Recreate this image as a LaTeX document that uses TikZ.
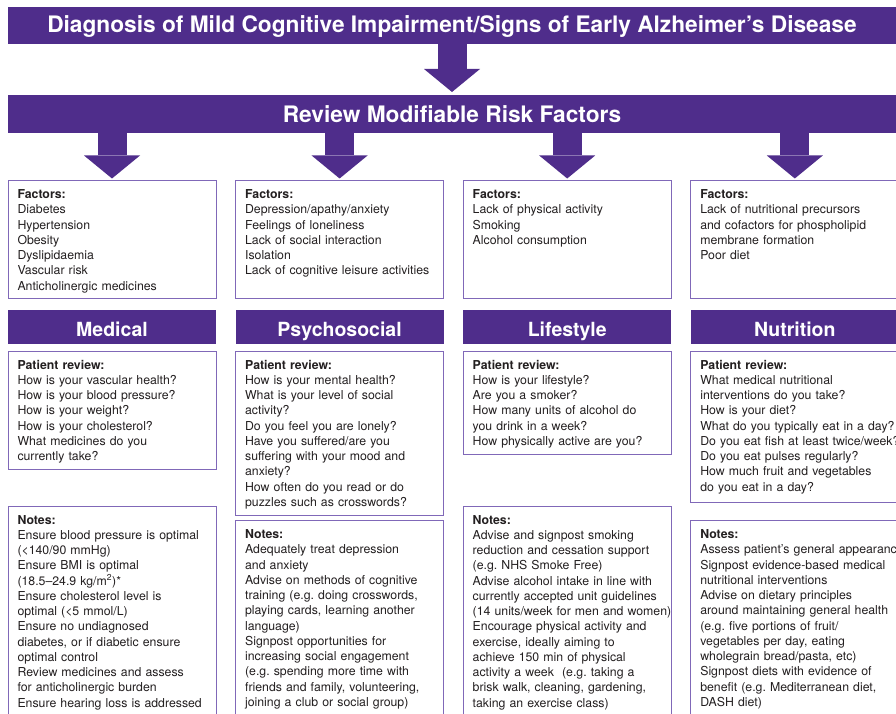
\documentclass[tikz,border=0pt]{standalone}
\usepackage{fontspec}
\setmainfont{TeX Gyre Heros}
\usepackage{xcolor}
\usepackage{tikz}
\usetikzlibrary{positioning,arrows.meta}

\definecolor{viola}{RGB}{79,45,139}
\definecolor{bordo}{RGB}{128,104,184}
\definecolor{testo}{RGB}{35,31,32}

\newcommand{\corpo}{\fontsize{12.3}{15.25}\selectfont\frenchspacing}

\tikzset{
  banner/.style={fill=viola, text=white, font=\fontsize{22.7}{26}\selectfont\bfseries, minimum width=888pt, inner sep=0pt, outer sep=0pt, text depth=0pt},
  categoria/.style={fill=viola, text=white, font=\fontsize{19.5}{23}\selectfont\bfseries, minimum width=208pt, minimum height=34pt, inner sep=0pt, outer sep=0pt, text height=19pt, text depth=0pt},
  scheda/.style={draw=bordo, line width=1pt, fill=white, text=testo, font=\corpo, text width=189pt, align=left, inner xsep=9.5pt, inner ysep=6pt, text height=12pt, text depth=#1, outer sep=0pt, execute at begin node={\rightskip=-30pt plus 1fil\relax}},
  freccia/.style={draw=viola, line width=29pt, -{Triangle[width=56pt, length=23pt, line width=0pt, fill=viola]}}
}

\begin{document}
\begin{tikzpicture}[x=1pt, y=1pt]
  \useasboundingbox (0,0) rectangle (896,-714);
  \clip (0,0) rectangle (896,-714);

  % Intestazioni
  \node[banner, minimum height=37pt, text height=14.4pt] (diagnosi) at (452,-25.5) {Diagnosis of Mild Cognitive Impairment/Signs of Early Alzheimer’s Disease};
  \node[banner, minimum height=38pt, text height=16.6pt] (rischi) at (452,-114) {Review Modifiable Risk Factors};

  % Fattori
  \node[scheda=93.5pt, anchor=north west] (fatt1) at (8,-180.5) {\textbf{Factors:}\\Diabetes\\Hypertension\\Obesity\\Dyslipidaemia\\Vascular risk\\Anticholinergic medicines};
  \node[scheda=93.5pt, right=19.6pt of fatt1] (fatt2) {\textbf{Factors:}\\Depression/apathy/anxiety\\Feelings of loneliness\\Lack of social interaction\\Isolation\\Lack of cognitive leisure activities};
  \node[scheda=93.5pt, right=19.6pt of fatt2] (fatt3) {\textbf{Factors:}\\Lack of physical activity\\Smoking\\Alcohol consumption};
  \node[scheda=93.5pt, right=19.6pt of fatt3] (fatt4) {\textbf{Factors:}\\Lack of nutritional precursors\\and cofactors for phospholipid\\membrane formation\\Poor diet};

  % Categorie
  \node[categoria, below=12pt of fatt1] (medico) {Medical};
  \node[categoria, below=12pt of fatt2] (psico) {Psychosocial};
  \node[categoria, below=12pt of fatt3] (stile) {Lifestyle};
  \node[categoria, below=12pt of fatt4] (nutri) {Nutrition};

  % Domande al paziente
  \node[scheda=94pt, below=7pt of medico] (paz1) {\textbf{Patient review:}\\How is your vascular health?\\How is your blood pressure?\\How is your weight?\\How is your cholesterol?\\What medicines do you\\currently take?};
  \node[scheda=140pt, below=7pt of psico] (paz2) {\textbf{Patient review:}\\How is your mental health?\\What is your level of social\\activity?\\Do you feel you are lonely?\\Have you suffered/are you\\suffering with your mood and\\anxiety?\\How often do you read or do\\puzzles such as crosswords?};
  \node[scheda=79pt, below=7pt of stile] (paz3) {\textbf{Patient review:}\\How is your lifestyle?\\Are you a smoker?\\How many units of alcohol do\\you drink in a week?\\How physically active are you?};
  \node[scheda=127pt, below=7pt of nutri] (paz4) {\textbf{Patient review:}\\What medical nutritional\\interventions do you take?\\How is your diet?\\What do you typically eat in a day?\\Do you eat fish at least twice/week?\\Do you eat pulses regularly?\\How much fruit and vegetables\\do you eat in a day?};

  % Note
  \node[scheda=220pt, below=37pt of paz1] (note1) {\textbf{Notes:}\\Ensure blood pressure is optimal\\(<140/90 mmHg)\\Ensure BMI is optimal\\(18.5–24.9 kg/m\textsuperscript{2})*\\Ensure cholesterol level is\\optimal (<5 mmol/L)\\Ensure no undiagnosed\\diabetes, or if diabetic ensure\\optimal control\\Review medicines and assess\\for anticholinergic burden\\Ensure hearing loss is addressed};
  \node[scheda=220pt, below=5.5pt of paz2] (note2) {\textbf{Notes:}\\Adequately treat depression\\and anxiety\\Advise on methods of cognitive\\training (e.g. doing crosswords,\\playing cards, learning another\\language)\\Signpost opportunities for\\increasing social engagement\\(e.g. spending more time with\\friends and family, volunteering,\\joining a club or social group)};
  \node[scheda=220pt, below=52pt of paz3] (note3) {\textbf{Notes:}\\Advise and signpost smoking\\reduction and cessation support\\(e.g. NHS Smoke Free)\\Advise alcohol intake in line with\\currently accepted unit guidelines\\(14 units/week for men and women)\\Encourage physical activity and\\exercise, ideally aiming to\\achieve 150 min of physical\\activity a week \ (e.g. taking a\\brisk walk, cleaning, gardening,\\taking an exercise class)};
  \node[scheda=220pt, below=18.5pt of paz4] (note4) {\textbf{Notes:}\\Assess patient’s general appearance\\Signpost evidence-based medical\\nutritional interventions\\Advise on dietary principles\\around maintaining general health\\(e.g. five portions of fruit/\\vegetables per day, eating\\wholegrain bread/pasta, etc)\\Signpost diets with evidence of\\benefit (e.g. Mediterranean diet,\\DASH diet)};

  % Frecce
  \draw[freccia] (diagnosi.south) -- ([yshift=3pt]rischi.north);
  \foreach \n in {1,...,4}
    \draw[freccia] (rischi.south -| fatt\n.north) -- ([yshift=2pt]fatt\n.north);
\end{tikzpicture}
\end{document}
